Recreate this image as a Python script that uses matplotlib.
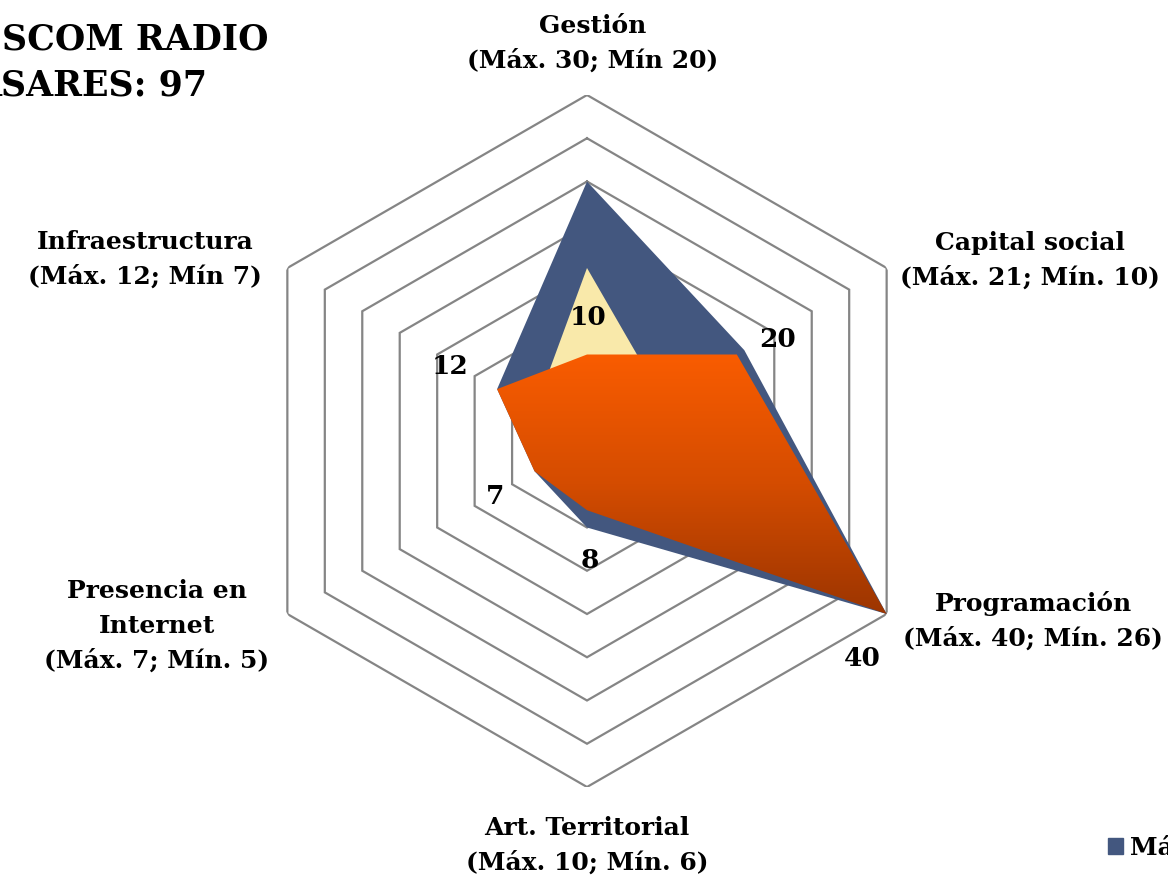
import numpy as np
import matplotlib
matplotlib.use("Agg")
import matplotlib.pyplot as plt
from matplotlib.colors import LinearSegmentedColormap

# ---------------- data ----------------
categories = ["Gestión", "Capital social", "Programación",
              "Art. Territorial", "Presencia en\nInternet", "Infraestructura"]
cat_ranges = ["(Máx. 30; Mín 20)", "(Máx. 21; Mín. 10)", "(Máx. 40; Mín. 26)",
              "(Máx. 10; Mín. 6)", "(Máx. 7; Mín. 5)", "(Máx. 12; Mín 7)"]
max_values = [30, 21, 40, 10, 7, 12]
min_values = [20, 10, 26, 6, 5, 7]
radio_values = [10, 20, 40, 8, 7, 12]
series_names = ["Máx.", "Mín.", "Puntuación"]
title_lines = ["SCOM RADIO", "ASARES: 97"]
ring_values = [5, 10, 15, 20, 25, 30, 35, 40]

# ---------------- style ----------------
FONT = "DejaVu Serif"
BLUE = "#43577F"
YELLOW = "#F9E9AA"
ORANGE_TOP = "#F95C00"
ORANGE_BOTTOM = "#9C3500"
GRID = "#858585"

W, H = 1168, 875
fig = plt.figure(figsize=(W / 100, H / 100), dpi=100)

# polar axes: centre (587, 441) px, outer radius 346 px
cx, cy, R = 587, 441, 346
ax = fig.add_axes([(cx - R) / W, (H - cy - R) / H, 2 * R / W, 2 * R / H],
                  projection="polar")
ax.set_theta_offset(np.pi / 2)
ax.set_theta_direction(-1)
ax.set_ylim(0, 40)
ax.grid(False)
ax.spines["polar"].set_visible(False)
ax.set_xticks([])
ax.set_yticks([])
ax.patch.set_alpha(0)

n = len(categories)
theta = np.linspace(0, 2 * np.pi, n, endpoint=False)
theta_c = np.append(theta, theta[0])

def closed(v):
    return np.append(np.asarray(v, float), v[0])

# hexagonal grid rings
for rv in ring_values:
    ax.plot(theta_c, [rv] * (n + 1), color=GRID, lw=1.6, zorder=1,
            solid_joinstyle="miter")

# series
ax.fill(theta_c, closed(max_values), color=BLUE, zorder=2, lw=0)
ax.fill(theta_c, closed(min_values), color=YELLOW, zorder=3, lw=0)
poly = ax.fill(theta_c, closed(radio_values), color="none", zorder=4, lw=0)[0]

ax.set_thetalim(0, 2 * np.pi)
ax.set_ylim(0, 40)

# gradient fill of the station polygon
fig.canvas.draw()
verts_disp = ax.transData.transform(np.column_stack([theta_c, closed(radio_values)]))
verts_ax = ax.transAxes.inverted().transform(verts_disp)
y0, y1 = verts_ax[:, 1].min(), verts_ax[:, 1].max()
x0, x1 = verts_ax[:, 0].min(), verts_ax[:, 0].max()
cmap = LinearSegmentedColormap.from_list("og", [ORANGE_BOTTOM, "#D44C00", ORANGE_TOP])
grad = np.linspace(0, 1, 256).reshape(-1, 1)
im = ax.imshow(grad, extent=(x0, x1, y0, y1), transform=ax.transAxes,
               origin="lower", aspect="auto", cmap=cmap, zorder=4,
               interpolation="bilinear")
im.set_clip_path(poly)
ax.set_thetalim(0, 2 * np.pi)
ax.set_ylim(0, 40)

# data labels (position: angle clockwise from top in degrees, radius in data units)
label_pos = [(0.5, 14.3), (62.0, 25.0), (128.3, 40.5),
             (178.6, 13.8), (238.7, 12.4), (298.7, 18.0)]
for val, (ang, rr) in zip(radio_values, label_pos):
    ax.text(np.deg2rad(ang), rr, f"{val}", ha="center", va="center",
            fontsize=19, fontweight="bold", family=FONT, color="black", zorder=6)

# category labels (block centres in pixels)
cat_pos = [(593, 43), (1030, 260), (1033, 621), (587, 845), (157, 626), (145, 259)]
for name, rng, (px, py) in zip(categories, cat_ranges, cat_pos):
    fig.text(px / W, 1 - py / H, f"{name}\n{rng}", ha="center", va="center",
             multialignment="center", fontsize=18, fontweight="bold",
             family=FONT, linespacing=1.55)

# title (partly outside the canvas, as in the reference)
fig.text(268 / W, 1 - 40 / H, title_lines[0], ha="right", va="center",
         fontsize=25, fontweight="bold", family=FONT)
fig.text(207 / W, 1 - 86 / H, title_lines[1], ha="right", va="center",
         fontsize=25, fontweight="bold", family=FONT)

# legend (only the beginning is inside the canvas)
handles = [plt.Rectangle((0, 0), 1, 1, color=c) for c in [BLUE, YELLOW, ORANGE_TOP]]
fig.legend(handles, series_names, loc="center left",
           bbox_to_anchor=(1085 / W, 1 - 848 / H), ncol=3, frameon=False,
           handlelength=0.6, handleheight=0.6, handletextpad=0.3,
           prop={"family": FONT, "weight": "bold", "size": 18})

fig.savefig("out.png", dpi=100)
